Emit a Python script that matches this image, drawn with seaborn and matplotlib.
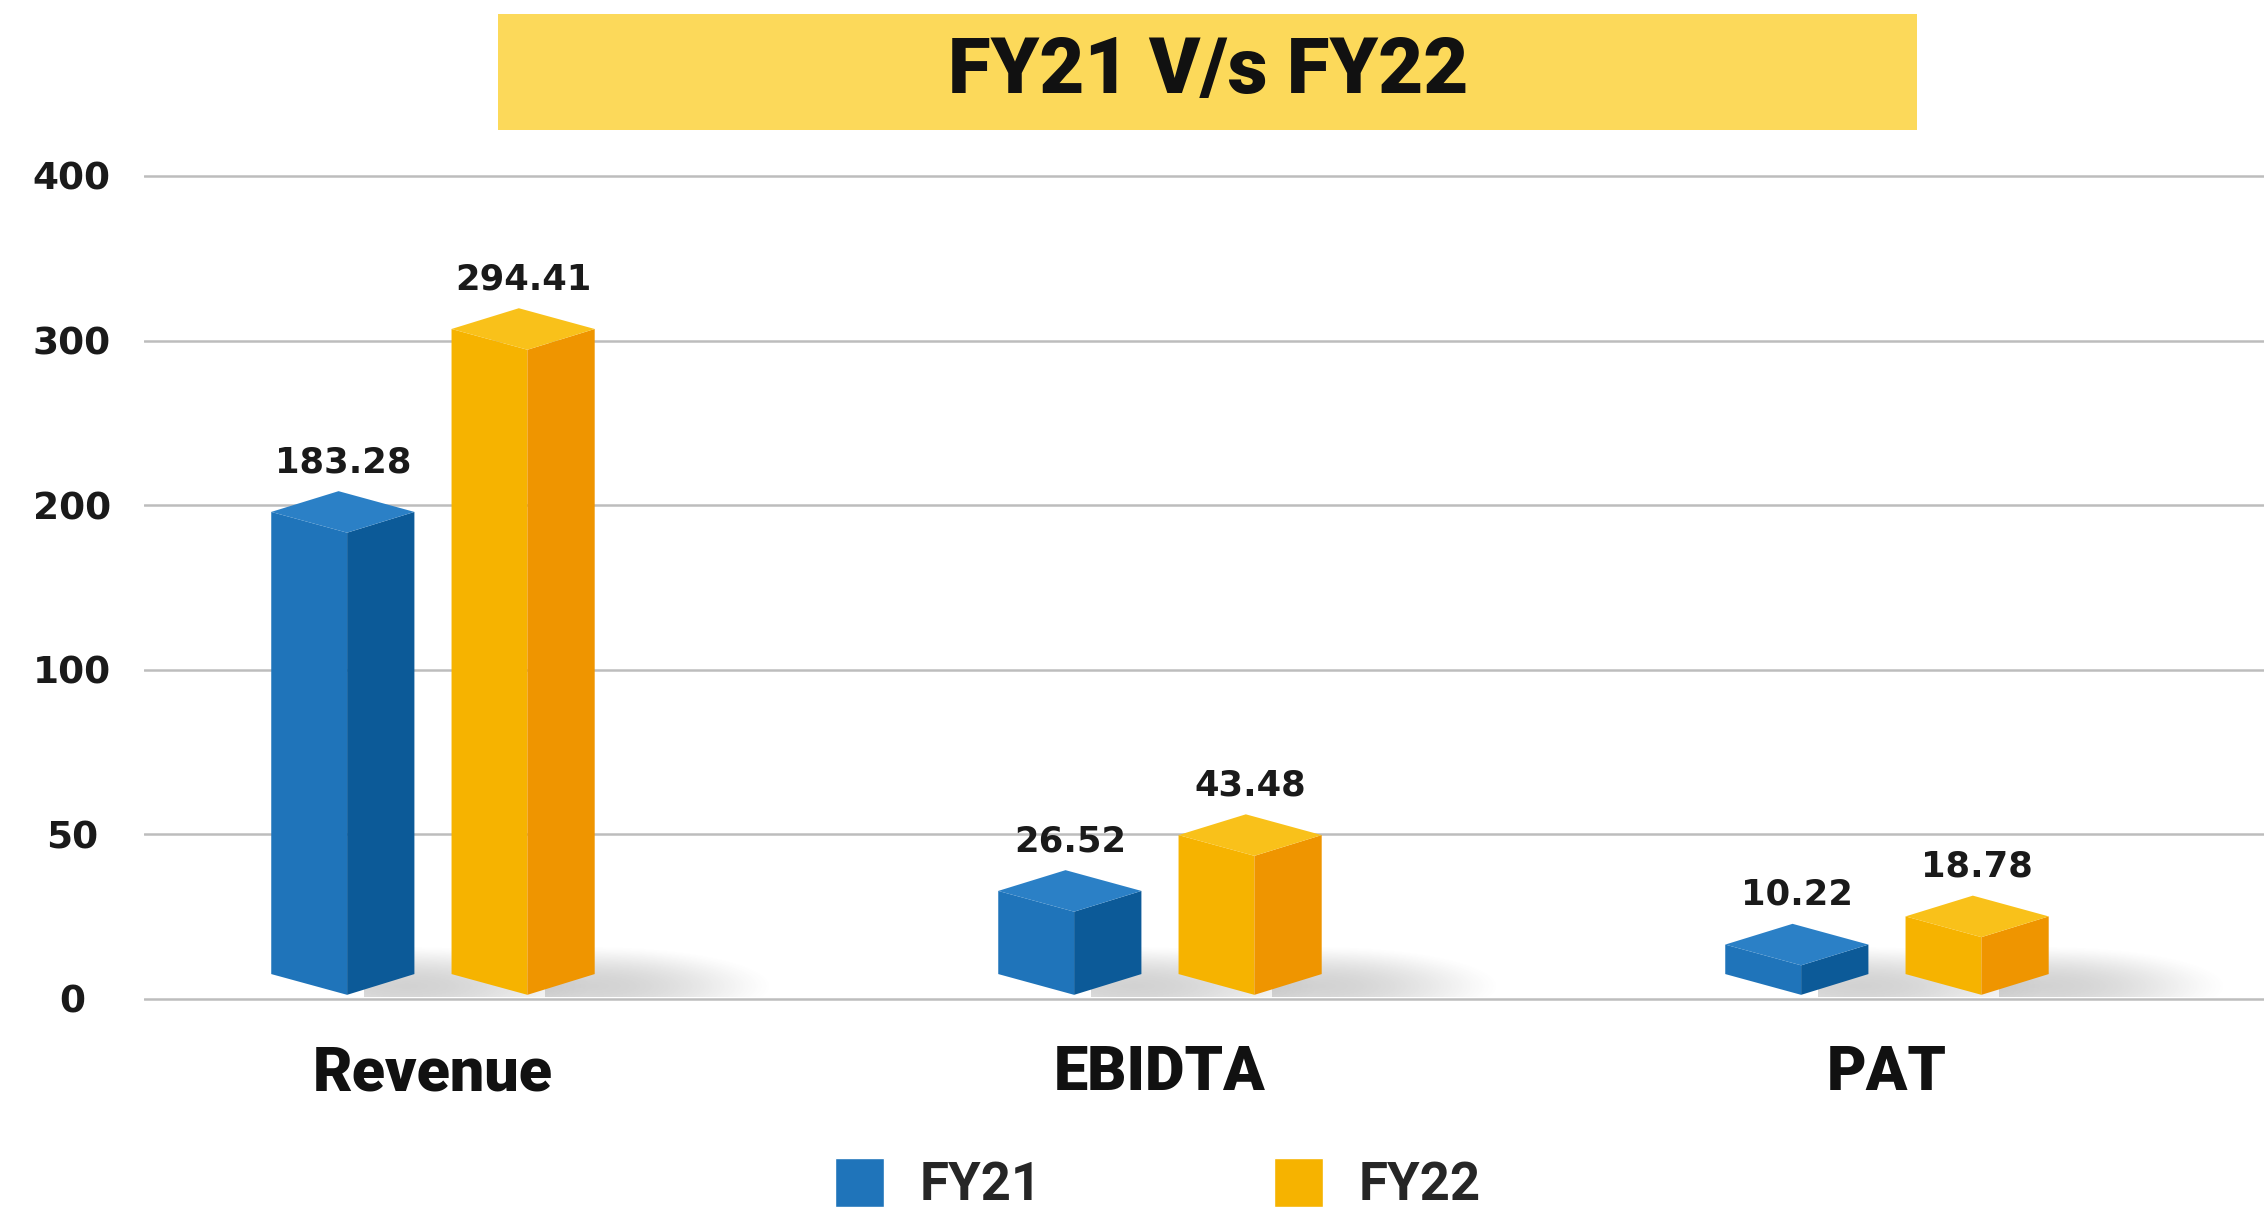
import numpy as np
import pandas as pd
import seaborn as sns
import matplotlib
matplotlib.use("Agg")
import matplotlib.pyplot as plt
from matplotlib.patches import Polygon, Rectangle

# chart data
categories = ["Revenue", "EBIDTA", "PAT"]
years = ["FY21", "FY22"]
fy21 = [183.28, 26.52, 10.22]
fy22 = [294.41, 43.48, 18.78]
y_ticks = [0, 50, 100, 200, 300, 400]

# (left face, right face, top face) per year
shades = {
    "FY21": ("#1f74ba", "#0c5a98", "#2b80c6"),
    "FY22": ("#f6b300", "#ef9500", "#f9c11a"),
}

df = pd.DataFrame({
    "Metric": categories * 2,
    "Year": [years[0]] * len(fy21) + [years[1]] * len(fy22),
    "Value": fy21 + fy22,
})

sns.set_theme(style="white")
plt.rcParams["font.family"] = ["Roboto", "DejaVu Sans"]

fig = plt.figure(figsize=(22.64, 12.11), dpi=100)
ax = fig.add_axes([0.0636, 0.171, 0.9364, 0.6878])

sns.barplot(data=df, x="Metric", y="Value", hue="Year", hue_order=years,
            palette=[shades[y][0] for y in years], saturation=1,
            width=0.496, gap=0.206, ax=ax)


# axis is evenly spaced per tick: 0-100 in steps of 50, then steps of 100
def fwd(v):
    v = np.asarray(v, dtype=float)
    return np.where(v <= 100, v / 50, 2 + (v - 100) / 100)


def inv(y):
    y = np.asarray(y, dtype=float)
    return np.where(y <= 2, y * 50, 100 + (y - 2) * 100)


ax.set_yscale("function", functions=(fwd, inv))
ax.set_ylim(float(inv(-0.03)), float(inv(5.03)))
ax.set_xlim(-0.3975, 2.5186)
ax.set_yticks(y_ticks)
ax.set_yticklabels([str(t) for t in y_ticks])
ax.tick_params(axis="y", length=0, pad=52, labelsize=27)
ax.tick_params(axis="x", length=0, pad=29)
for lab in ax.get_yticklabels():
    lab.set_horizontalalignment("center")
    lab.set_fontfamily("DejaVu Sans")
    lab.set_fontweight("bold")
    lab.set_color("#1a1a1a")
for lab in ax.get_xticklabels():
    lab.set_fontsize(44)
    lab.set_fontweight("black")
    lab.set_color("#111111")
ax.set_xlabel("")
ax.set_ylabel("")
ax.grid(axis="y", color="#bdbdbd", linewidth=1.8)
ax.set_axisbelow(True)
sns.despine(ax=ax, left=True, bottom=True)

# legend from seaborn, moved to the bottom of the figure
leg = ax.get_legend()
handles = leg.legend_handles
labels = [t.get_text() for t in leg.get_texts()]
leg.remove()
fig.legend(handles, labels, loc="center", bbox_to_anchor=(0.5115, 0.022), ncol=2,
           frameon=False, handlelength=0.93, handleheight=1.05, handletextpad=0.68,
           columnspacing=4.4, prop={"size": 38, "weight": "bold", "family": "Roboto"})

# turn the flat bars into boxes
to_fig = fig.transFigure.inverted()


def fpoly(pts, color, z):
    p = Polygon(to_fig.transform(np.array(pts)), closed=True, facecolor=color,
                edgecolor="none", transform=fig.transFigure, zorder=z, clip_on=False)
    ax.add_patch(p)


# soft shadow blob, reused for every bar
gx = np.linspace(0, 1, 80)
gy = np.linspace(0, 1, 30)
GX, GY = np.meshgrid(gx, gy)
blob = np.clip(1 - ((GX - 0.18) / 0.82) ** 2 - ((GY - 0.2) / 0.8) ** 2, 0, 1) ** 1.4
shadow = np.zeros((30, 80, 4))
shadow[..., :3] = 0.42
shadow[..., 3] = 0.30 * blob

for year, cont in zip(years, ax.containers):
    left_c, right_c, top_c = shades[year]
    for rect in cont:
        x0, w, h = rect.get_x(), rect.get_width(), rect.get_height()
        rect.set_visible(False)
        X0, Yb = ax.transData.transform((x0, 0))
        X1, Yv = ax.transData.transform((x0 + w, h))
        W = X1 - X0
        Xf = X0 + 0.53 * W
        Xb = X0 + 0.47 * W
        dd = 0.145 * W
        e = 0.2 * dd

        (sx0, sy0), (sx1, sy1) = to_fig.transform([(X1 - 0.35 * W, Yb + 2), (X1 + 1.25 * W, Yb + 2.6 * dd)])
        ax.imshow(shadow, extent=(sx0, sx1, sy0, sy1), origin="lower", transform=fig.transFigure,
                  interpolation="bilinear", zorder=2, clip_on=False, aspect="auto")

        fpoly([(X0, Yb + dd + e), (Xf, Yb + e), (Xf, Yv), (X0, Yv + dd)], left_c, 4)
        fpoly([(Xf, Yb + e), (X1, Yb + dd + e), (X1, Yv + dd), (Xf, Yv)], right_c, 4)
        fpoly([(X0, Yv + dd), (Xf, Yv), (X1, Yv + dd), (Xb, Yv + 2 * dd)], top_c, 4)

        ax.annotate(f"{h:.2f}", xy=(x0 + w / 2, h), xytext=(0, (2 * dd + 12) / 1.389),
                    textcoords="offset points", ha="center", va="bottom",
                    fontsize=25.5, fontweight="bold", family="DejaVu Sans",
                    color="#1a1a1a", zorder=6, annotation_clip=False)

# imshow resets limits, put them back
ax.set_xlim(-0.3975, 2.5186)
ax.set_ylim(float(inv(-0.03)), float(inv(5.03)))

# title banner
fig.add_artist(Rectangle((0.22, 0.8927), 0.6268, 0.0958, transform=fig.transFigure,
                         facecolor="#fcd95a", edgecolor="none", zorder=1))
fig.text(0.5335, 0.9405, "FY21 V/s FY22", ha="center", va="center",
         fontsize=56, fontweight="black", color="#111111", zorder=2)

fig.savefig("out.png", dpi=100)
